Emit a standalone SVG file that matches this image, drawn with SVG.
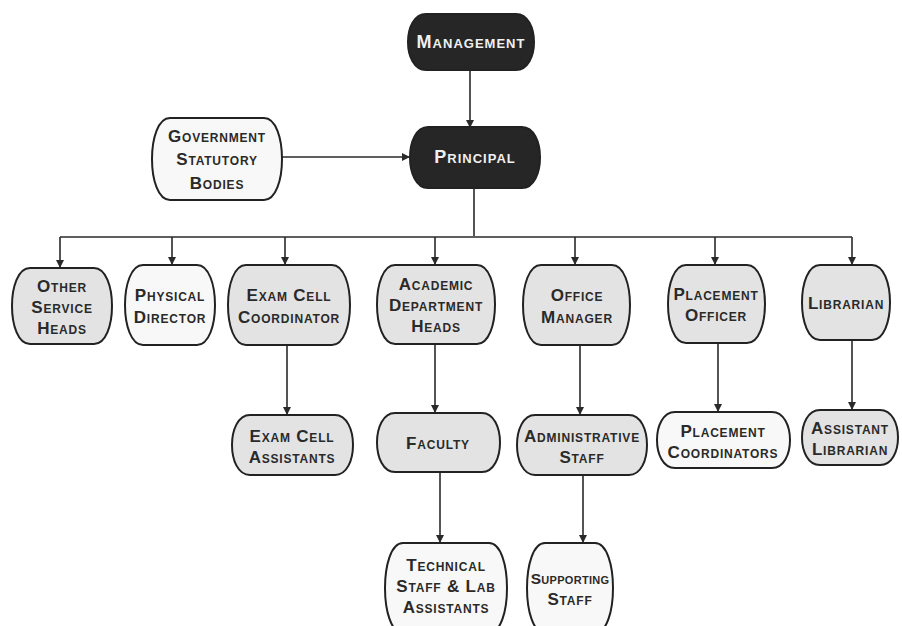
<svg xmlns="http://www.w3.org/2000/svg" width="902" height="626" viewBox="0 0 902 626">
<style>
.n{stroke:#222;stroke-width:2;fill:#e3e3e3}
.w{fill:#f8f8f8}
.d{fill:#262626}
.t{font-family:"Liberation Sans",Arial,sans-serif;font-weight:bold;font-size:17px;font-variant:small-caps;fill:#2a2a2a;text-anchor:middle;letter-spacing:0.8px}
.tw{fill:#f0f0f0;font-size:18px;letter-spacing:1px}
.c{stroke:#2a2a2a;stroke-width:1.6;fill:none}
</style>
<defs>
<marker id="a" markerWidth="8" markerHeight="8" refX="7" refY="4" orient="auto" markerUnits="userSpaceOnUse">
<path d="M0,0 L8,4 L0,8 z" fill="#2a2a2a"/>
</marker>
</defs>
<rect width="902" height="626" fill="#ffffff"/>
<g id="connectors">
<path class="c" d="M470,70 V127" marker-end="url(#a)"/>
<path class="c" d="M282,157 H409" marker-end="url(#a)"/>
<path class="c" d="M474,188 V236"/>
<path class="c" d="M60,237 H852"/>
<path class="c" d="M60,237 V267" marker-end="url(#a)"/>
<path class="c" d="M172,237 V264" marker-end="url(#a)"/>
<path class="c" d="M285,237 V264" marker-end="url(#a)"/>
<path class="c" d="M435,237 V264" marker-end="url(#a)"/>
<path class="c" d="M575,237 V264" marker-end="url(#a)"/>
<path class="c" d="M715,237 V264" marker-end="url(#a)"/>
<path class="c" d="M852,237 V264" marker-end="url(#a)"/>
<path class="c" d="M287,345 V414" marker-end="url(#a)"/>
<path class="c" d="M435,344 V412" marker-end="url(#a)"/>
<path class="c" d="M580,345 V414" marker-end="url(#a)"/>
<path class="c" d="M718,343 V411" marker-end="url(#a)"/>
<path class="c" d="M852,340 V409" marker-end="url(#a)"/>
<path class="c" d="M440,472 V542" marker-end="url(#a)"/>
<path class="c" d="M583,475 V542" marker-end="url(#a)"/>
</g>
<g id="management"><path class="n d" d="M426,14 H516 C540,14 540,70 516,70 H426 C402,70 402,14 426,14 Z"/><text class="t tw" x="471" y="48">Management</text></g>
<g id="principal"><path class="n d" d="M428,127 H522 C546,127 546,188 522,188 H428 C404,188 404,127 428,127 Z"/><text class="t tw" x="475" y="163">Principal</text></g>
<g id="government"><path class="n w" d="M170,118 H264 C288,118 288,200 264,200 H170 C146,200 146,118 170,118 Z"/><text class="t" x="217" y="142">Government</text><text class="t" x="217" y="165">Statutory</text><text class="t" x="217" y="189">Bodies</text></g>
<g id="other"><path class="n" d="M30,268 H94 C118,268 118,344 94,344 H30 C6,344 6,268 30,268 Z"/><text class="t" x="62" y="292">Other</text><text class="t" x="62" y="313">Service</text><text class="t" x="62" y="334">Heads</text></g>
<g id="physical"><path class="n w" d="M143,265 H197 C221,265 221,345 197,345 H143 C119,345 119,265 143,265 Z"/><text class="t" x="170" y="301">Physical</text><text class="t" x="170" y="323">Director</text></g>
<g id="examcoord"><path class="n" d="M246,265 H332 C356,265 356,345 332,345 H246 C222,345 222,265 246,265 Z"/><text class="t" x="289" y="301">Exam Cell</text><text class="t" x="289" y="323">Coordinator</text></g>
<g id="academic"><path class="n" d="M395,265 H477 C501,265 501,344 477,344 H395 C371,344 371,265 395,265 Z"/><text class="t" x="436" y="290">Academic</text><text class="t" x="436" y="311">Department</text><text class="t" x="436" y="332">Heads</text></g>
<g id="office"><path class="n" d="M541,265 H612 C636,265 636,345 612,345 H541 C517,345 517,265 541,265 Z"/><text class="t" x="577" y="301">Office</text><text class="t" x="577" y="323">Manager</text></g>
<g id="placement"><path class="n" d="M686,265 H747 C771,265 771,343 747,343 H686 C662,343 662,265 686,265 Z"/><text class="t" x="716" y="300">Placement</text><text class="t" x="716" y="321">Officer</text></g>
<g id="librarian"><path class="n" d="M820,265 H872 C896,265 896,340 872,340 H820 C796,340 796,265 820,265 Z"/><text class="t" x="846" y="309">Librarian</text></g>
<g id="examassist"><path class="n" d="M250,415 H335 C359,415 359,475 335,475 H250 C226,475 226,415 250,415 Z"/><text class="t" x="292" y="442">Exam Cell</text><text class="t" x="292" y="463">Assistants</text></g>
<g id="faculty"><path class="n" d="M395,413 H482 C506,413 506,472 482,472 H395 C371,472 371,413 395,413 Z"/><text class="t" x="438" y="449">Faculty</text></g>
<g id="admin"><path class="n" d="M535,415 H629 C653,415 653,475 629,475 H535 C511,475 511,415 535,415 Z"/><text class="t" x="582" y="442">Administrative</text><text class="t" x="582" y="463">Staff</text></g>
<g id="placecoord"><path class="n w" d="M675,412 H772 C796,412 796,468 772,468 H675 C651,468 651,412 675,412 Z"/><text class="t" x="723" y="437">Placement</text><text class="t" x="723" y="458">Coordinators</text></g>
<g id="asstlib"><path class="n" d="M820,410 H880 C904,410 904,465 880,465 H820 C796,465 796,410 820,410 Z"/><text class="t" x="850" y="434">Assistant</text><text class="t" x="850" y="455">Librarian</text></g>
<g id="technical"><path class="n w" d="M403,543 H489 C513,543 513,633 489,633 H403 C379,633 379,543 403,543 Z"/><text class="t" x="446" y="571">Technical</text><text class="t" x="446" y="592">Staff &amp; Lab</text><text class="t" x="446" y="613">Assistants</text></g>
<g id="supporting"><path class="n w" d="M545,543 H595 C619,543 619,633 595,633 H545 C521,633 521,543 545,543 Z"/><text class="t" x="570" y="584" style="font-size:15.5px;letter-spacing:0.3px">Supporting</text><text class="t" x="570" y="605">Staff</text></g>
</svg>
